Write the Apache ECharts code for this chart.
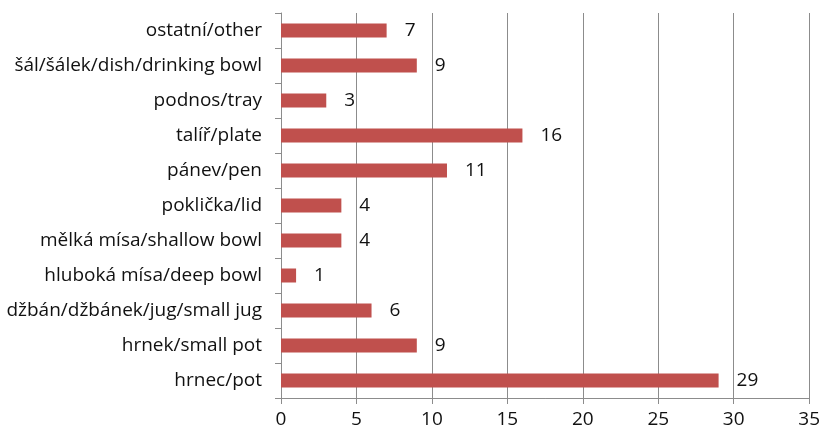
<!DOCTYPE html>
<html>
<head>
<meta charset="utf-8">
<script src="https://cdn.jsdelivr.net/npm/echarts@6/dist/echarts.min.js"></script>
<style>
  html, body { margin: 0; padding: 0; background: #fff; }
  #chart { width: 823px; height: 435px; }
</style>
</head>
<body>
<div id="chart"></div>
<script>
// bottom to top, as in the picture
var categories = [
  'hrnec/pot',
  'hrnek/small pot',
  'džbán/džbánek/jug/small jug',
  'hluboká mísa/deep bowl',
  'mělká mísa/shallow bowl',
  'poklička/lid',
  'pánev/pen',
  'talíř/plate',
  'podnos/tray',
  'šál/šálek/dish/drinking bowl',
  'ostatní/other'
];
var counts = [29, 9, 6, 1, 4, 4, 11, 16, 3, 9, 7];

var fontFam = '"Open Sans", "Noto Sans", sans-serif';

var myChart = echarts.init(document.getElementById('chart'));
myChart.setOption({
  animation: false,
  grid: { left: 281, right: 13, top: 13, bottom: 37, containLabel: false },
  xAxis: {
    type: 'value',
    min: 0,
    max: 35,
    interval: 5,
    axisLine: { show: true, lineStyle: { color: '#8c8c8c', width: 1 } },
    axisTick: { show: true, length: 6, lineStyle: { color: '#8c8c8c' } },
    axisLabel: { color: '#111', fontSize: 19, fontFamily: fontFam, margin: 12 },
    splitLine: { show: true, lineStyle: { color: '#8c8c8c', width: 1 } }
  },
  yAxis: {
    type: 'category',
    data: categories,
    axisLine: { show: true, lineStyle: { color: '#8c8c8c', width: 1 } },
    axisTick: { show: true, length: 6, alignWithLabel: false, lineStyle: { color: '#8c8c8c' } },
    axisLabel: { color: '#111', fontSize: 19, fontFamily: fontFam, margin: 19 },
    splitLine: { show: false }
  },
  series: [{
    type: 'bar',
    data: counts,
    barWidth: 14,
    itemStyle: { color: '#c0504d' },
    label: {
      show: true,
      position: 'right',
      distance: 18,
      color: '#111',
      fontSize: 19,
      fontFamily: fontFam
    }
  }]
});
</script>
</body>
</html>
